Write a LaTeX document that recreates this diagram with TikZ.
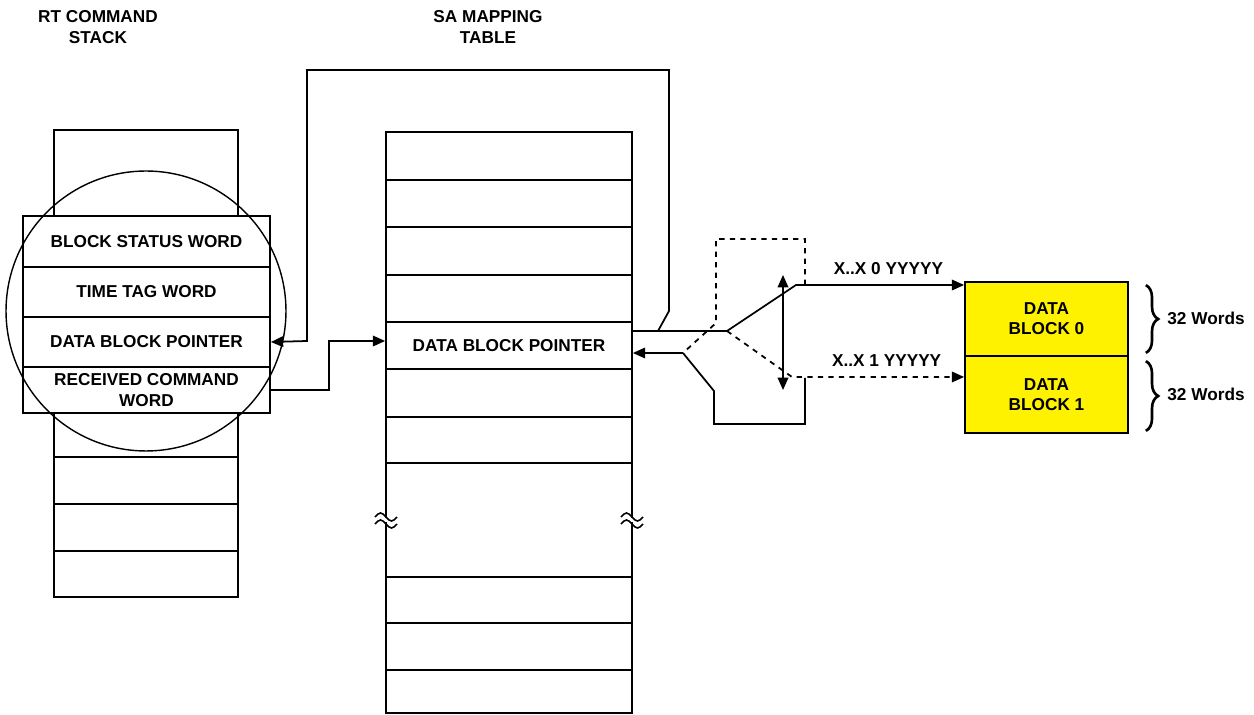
\documentclass[tikz,border=0pt]{standalone}
\usepackage{fontspec}
\setmainfont{Liberation Sans}
\usetikzlibrary{arrows.meta, positioning, decorations.pathreplacing, calc}

\begin{document}
\begin{tikzpicture}[x=0.02cm, y=-0.02cm,
    every node/.style={font=\bfseries\fontsize{9.8}{11.5}\selectfont, align=center},
    row/.style={draw, line width=1pt, minimum width=4.94cm, minimum height=1cm, inner sep=0pt},
    cell/.style={draw, line width=1pt, minimum width=4.92cm, minimum height=0.94cm, inner sep=0pt},
    blk/.style={draw, line width=1pt, fill=yellow, minimum width=3.26cm, inner sep=0pt},
    ln/.style={line width=1pt},
    a/.style={-{Triangle[length=7pt, width=6pt]}, line width=1pt},
    br/.style={decorate, decoration={brace, amplitude=7pt}, line width=1.5pt}
]
\useasboundingbox (0,0) rectangle (1254,715);
% RT command stack
\node (ttlrt) at (98,27) {RT COMMAND\\STACK};
\draw[ln] (54,130) rectangle (238,216);
\node[row, minimum height=1.02cm] (bsw) at (146.5,241.5) {BLOCK STATUS WORD};
\node[row] (ttw) at (146.5,292) {TIME TAG WORD};
\node[row] (sdbp) at (146.5,342) {DATA BLOCK POINTER};
\node[row, minimum height=0.92cm] (rcw) at (146.5,390) {RECEIVED COMMAND\\WORD};
\draw[ln] (54,413) rectangle (238,457) (54,457) rectangle (238,504)
          (54,504) rectangle (238,551) (54,551) rectangle (238,597);
\node[circle, draw, line width=0.8pt, minimum size=5.6cm, inner sep=0pt] (lens) at (146,311) {};
% SA mapping table
\node (ttlsa) at (488,27) {SA MAPPING\\TABLE};
\draw[ln] (386,132) rectangle (632,180) (386,180) rectangle (632,227)
          (386,227) rectangle (632,275) (386,275) rectangle (632,322);
\node[cell] (sadbp) at (509,345.5) {DATA BLOCK POINTER};
\draw[ln] (386,369) rectangle (632,417) (386,417) rectangle (632,463)
          (386,463) rectangle (632,577) (386,577) rectangle (632,623)
          (386,623) rectangle (632,670) (386,670) rectangle (632,713);
% break marks
\fill[white] (383,518) rectangle (389,522);
\fill[white] (629,518) rectangle (635,522);
\draw[line width=0.9pt] (375,517) sin (380.5,513) cos (386,517) sin (391.5,521) cos (397,517)
                        (375,524) sin (380.5,520) cos (386,524) sin (391.5,528) cos (397,524);
\draw[line width=0.9pt] (621,517) sin (626.5,513) cos (632,517) sin (637.5,521) cos (643,517)
                        (621,524) sin (626.5,520) cos (632,524) sin (637.5,528) cos (643,524);
% stack -> table
\coordinate (jog) at (329,341);
\draw[a] (rcw.east) -| (jog) -- (sadbp.west |- jog);
% table -> stack
\coordinate (tap) at (658,331);
\coordinate (piv) at (727,331);
\draw[ln] ([yshift=2.9mm]sadbp.east) -- (piv);
\draw[a] (tap) -- (669,311) -- (669,70) -- (307,70) -- (307,341) -- (sdbp.east);
% data blocks
\node[blk, minimum height=1.48cm] (blk0) at (1046.5,319) {DATA\\BLOCK 0};
\node[blk, minimum height=1.54cm] (blk1) at (1046.5,394.5) {DATA\\BLOCK 1};
% block select switch
\coordinate (sw0) at (796,285);
\coordinate (sw1) at (792,377);
\coordinate (ret) at (683,353);
\coordinate (up0) at (805,285);
\coordinate (dn1) at (805,378);
\coordinate (selT) at (783,275);
\coordinate (selB) at (783,390);
\draw[a] (piv) -- (sw0) -- (sw0 -| blk0.west) node[pos=0.55, above=2pt] {X..X 0 YYYYY};
\draw[a, dashed] (piv) -- (sw1) -- (sw1 -| blk1.west) node[pos=0.55, above=2pt] {X..X 1 YYYYY};
\draw[ln, dashed] (up0) -- (805,239) -- (716,239) -- (716,323) -- (ret);
\draw[a] (ret) -- ([yshift=-1.5mm]sadbp.east);
\draw[ln] (ret) -- (714,391) -- (714,424) -- (805,424) -- (dn1);
\draw[{Triangle[length=7pt, width=6pt]}-{Triangle[length=7pt, width=6pt]}, line width=1pt] (selT) -- (selB);
% block sizes
\draw[br] ($(blk0.north east)+(17,4)$) -- ($(blk0.south east)+(17,-4)$);
\draw[br] ($(blk1.north east)+(17,6)$) -- ($(blk1.south east)+(17,-3)$);
\node (w0) at (1206,318) {32 Words};
\node (w1) at (1206,394) {32 Words};
\end{tikzpicture}
\end{document}
